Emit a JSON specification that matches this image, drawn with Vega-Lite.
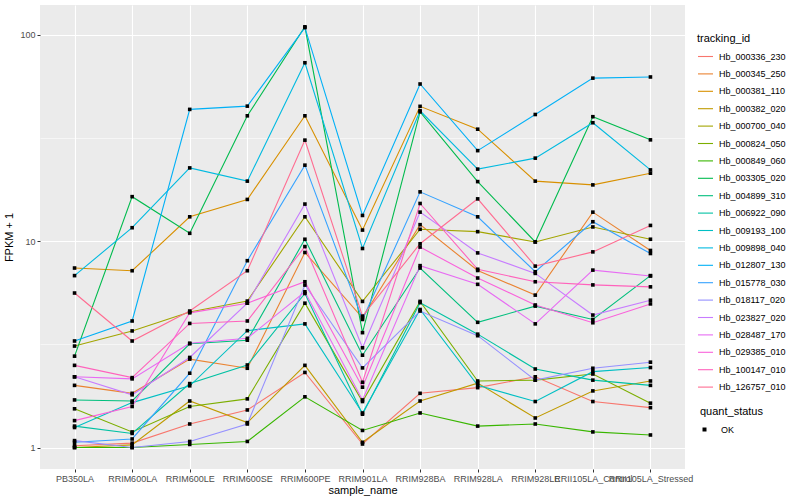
{
"$schema":"https://vega.github.io/schema/vega-lite/v6.json",
"width":645,"height":464,
"autosize":{"type":"none"},
"padding":{"left":40,"top":5,"right":115,"bottom":31},
"background":"white",
"config":{
"view":{"fill":"#EBEBEB","stroke":null},
"font":"Liberation Sans",
"axis":{"gridColor":"white","domain":false,"tickColor":"#333333","tickSize":3,"tickWidth":1,"labelColor":"#4D4D4D","labelFontSize":9,"labelPadding":2,"titleFontSize":11,"titleFontWeight":"normal","titleColor":"black"},
"legend":{"titleFontSize":11,"titleFontWeight":"normal","titleColor":"black","labelFontSize":9,"labelColor":"black"}
},
"data":{"values":[
{"t":"Hb_000336_230","s":"PB350LA","v":1.02,"q":"OK"},{"t":"Hb_000336_230","s":"RRIM600LA","v":1.05,"q":"OK"},{"t":"Hb_000336_230","s":"RRIM600LE","v":1.30,"q":"OK"},{"t":"Hb_000336_230","s":"RRIM600SE","v":1.52,"q":"OK"},{"t":"Hb_000336_230","s":"RRIM600PE","v":2.31,"q":"OK"},{"t":"Hb_000336_230","s":"RRIM901LA","v":1.04,"q":"OK"},{"t":"Hb_000336_230","s":"RRIM928BA","v":1.83,"q":"OK"},{"t":"Hb_000336_230","s":"RRIM928LA","v":1.95,"q":"OK"},{"t":"Hb_000336_230","s":"RRIM928LE","v":2.2,"q":"OK"},{"t":"Hb_000336_230","s":"RRII105LA_Control","v":1.67,"q":"OK"},{"t":"Hb_000336_230","s":"RRII105LA_Stressed","v":1.56,"q":"OK"},
{"t":"Hb_000345_250","s":"PB350LA","v":2.0,"q":"OK"},{"t":"Hb_000345_250","s":"RRIM600LA","v":1.83,"q":"OK"},{"t":"Hb_000345_250","s":"RRIM600LE","v":2.68,"q":"OK"},{"t":"Hb_000345_250","s":"RRIM600SE","v":2.42,"q":"OK"},{"t":"Hb_000345_250","s":"RRIM600PE","v":8.8,"q":"OK"},{"t":"Hb_000345_250","s":"RRIM901LA","v":4.25,"q":"OK"},{"t":"Hb_000345_250","s":"RRIM928BA","v":12.0,"q":"OK"},{"t":"Hb_000345_250","s":"RRIM928LA","v":7.2,"q":"OK"},{"t":"Hb_000345_250","s":"RRIM928LE","v":5.47,"q":"OK"},{"t":"Hb_000345_250","s":"RRII105LA_Control","v":13.8,"q":"OK"},{"t":"Hb_000345_250","s":"RRII105LA_Stressed","v":9.0,"q":"OK"},
{"t":"Hb_000381_110","s":"PB350LA","v":7.4,"q":"OK"},{"t":"Hb_000381_110","s":"RRIM600LA","v":7.18,"q":"OK"},{"t":"Hb_000381_110","s":"RRIM600LE","v":13.1,"q":"OK"},{"t":"Hb_000381_110","s":"RRIM600SE","v":15.9,"q":"OK"},{"t":"Hb_000381_110","s":"RRIM600PE","v":40.4,"q":"OK"},{"t":"Hb_000381_110","s":"RRIM901LA","v":11.3,"q":"OK"},{"t":"Hb_000381_110","s":"RRIM928BA","v":44.9,"q":"OK"},{"t":"Hb_000381_110","s":"RRIM928LA","v":34.8,"q":"OK"},{"t":"Hb_000381_110","s":"RRIM928LE","v":19.5,"q":"OK"},{"t":"Hb_000381_110","s":"RRII105LA_Control","v":18.7,"q":"OK"},{"t":"Hb_000381_110","s":"RRII105LA_Stressed","v":21.3,"q":"OK"},
{"t":"Hb_000382_020","s":"PB350LA","v":1.0,"q":"OK"},{"t":"Hb_000382_020","s":"RRIM600LA","v":1.03,"q":"OK"},{"t":"Hb_000382_020","s":"RRIM600LE","v":1.68,"q":"OK"},{"t":"Hb_000382_020","s":"RRIM600SE","v":1.32,"q":"OK"},{"t":"Hb_000382_020","s":"RRIM600PE","v":2.5,"q":"OK"},{"t":"Hb_000382_020","s":"RRIM901LA","v":1.06,"q":"OK"},{"t":"Hb_000382_020","s":"RRIM928BA","v":1.68,"q":"OK"},{"t":"Hb_000382_020","s":"RRIM928LA","v":2.05,"q":"OK"},{"t":"Hb_000382_020","s":"RRIM928LE","v":1.39,"q":"OK"},{"t":"Hb_000382_020","s":"RRII105LA_Control","v":1.88,"q":"OK"},{"t":"Hb_000382_020","s":"RRII105LA_Stressed","v":2.1,"q":"OK"},
{"t":"Hb_000700_040","s":"PB350LA","v":3.1,"q":"OK"},{"t":"Hb_000700_040","s":"RRIM600LA","v":3.67,"q":"OK"},{"t":"Hb_000700_040","s":"RRIM600LE","v":4.53,"q":"OK"},{"t":"Hb_000700_040","s":"RRIM600SE","v":5.12,"q":"OK"},{"t":"Hb_000700_040","s":"RRIM600PE","v":13.1,"q":"OK"},{"t":"Hb_000700_040","s":"RRIM901LA","v":5.1,"q":"OK"},{"t":"Hb_000700_040","s":"RRIM928BA","v":11.4,"q":"OK"},{"t":"Hb_000700_040","s":"RRIM928LA","v":11.1,"q":"OK"},{"t":"Hb_000700_040","s":"RRIM928LE","v":9.9,"q":"OK"},{"t":"Hb_000700_040","s":"RRII105LA_Control","v":11.7,"q":"OK"},{"t":"Hb_000700_040","s":"RRII105LA_Stressed","v":10.2,"q":"OK"},
{"t":"Hb_000824_050","s":"PB350LA","v":1.54,"q":"OK"},{"t":"Hb_000824_050","s":"RRIM600LA","v":1.19,"q":"OK"},{"t":"Hb_000824_050","s":"RRIM600LE","v":1.58,"q":"OK"},{"t":"Hb_000824_050","s":"RRIM600SE","v":1.72,"q":"OK"},{"t":"Hb_000824_050","s":"RRIM600PE","v":5.0,"q":"OK"},{"t":"Hb_000824_050","s":"RRIM901LA","v":1.67,"q":"OK"},{"t":"Hb_000824_050","s":"RRIM928BA","v":5.1,"q":"OK"},{"t":"Hb_000824_050","s":"RRIM928LA","v":2.1,"q":"OK"},{"t":"Hb_000824_050","s":"RRIM928LE","v":2.12,"q":"OK"},{"t":"Hb_000824_050","s":"RRII105LA_Control","v":2.27,"q":"OK"},{"t":"Hb_000824_050","s":"RRII105LA_Stressed","v":1.64,"q":"OK"},
{"t":"Hb_000849_060","s":"PB350LA","v":1.0,"q":"OK"},{"t":"Hb_000849_060","s":"RRIM600LA","v":1.0,"q":"OK"},{"t":"Hb_000849_060","s":"RRIM600LE","v":1.035,"q":"OK"},{"t":"Hb_000849_060","s":"RRIM600SE","v":1.07,"q":"OK"},{"t":"Hb_000849_060","s":"RRIM600PE","v":1.76,"q":"OK"},{"t":"Hb_000849_060","s":"RRIM901LA","v":1.21,"q":"OK"},{"t":"Hb_000849_060","s":"RRIM928BA","v":1.47,"q":"OK"},{"t":"Hb_000849_060","s":"RRIM928LA","v":1.27,"q":"OK"},{"t":"Hb_000849_060","s":"RRIM928LE","v":1.30,"q":"OK"},{"t":"Hb_000849_060","s":"RRII105LA_Control","v":1.19,"q":"OK"},{"t":"Hb_000849_060","s":"RRII105LA_Stressed","v":1.15,"q":"OK"},
{"t":"Hb_003305_020","s":"PB350LA","v":2.77,"q":"OK"},{"t":"Hb_003305_020","s":"RRIM600LA","v":16.4,"q":"OK"},{"t":"Hb_003305_020","s":"RRIM600LE","v":10.9,"q":"OK"},{"t":"Hb_003305_020","s":"RRIM600SE","v":40.4,"q":"OK"},{"t":"Hb_003305_020","s":"RRIM600PE","v":109,"q":"OK"},{"t":"Hb_003305_020","s":"RRIM901LA","v":3.6,"q":"OK"},{"t":"Hb_003305_020","s":"RRIM928BA","v":42.2,"q":"OK"},{"t":"Hb_003305_020","s":"RRIM928LA","v":19.4,"q":"OK"},{"t":"Hb_003305_020","s":"RRIM928LE","v":9.9,"q":"OK"},{"t":"Hb_003305_020","s":"RRII105LA_Control","v":40,"q":"OK"},{"t":"Hb_003305_020","s":"RRII105LA_Stressed","v":30.9,"q":"OK"},
{"t":"Hb_004899_310","s":"PB350LA","v":1.7,"q":"OK"},{"t":"Hb_004899_310","s":"RRIM600LA","v":1.68,"q":"OK"},{"t":"Hb_004899_310","s":"RRIM600LE","v":3.18,"q":"OK"},{"t":"Hb_004899_310","s":"RRIM600SE","v":3.31,"q":"OK"},{"t":"Hb_004899_310","s":"RRIM600PE","v":10.2,"q":"OK"},{"t":"Hb_004899_310","s":"RRIM901LA","v":2.8,"q":"OK"},{"t":"Hb_004899_310","s":"RRIM928BA","v":7.4,"q":"OK"},{"t":"Hb_004899_310","s":"RRIM928LA","v":4.04,"q":"OK"},{"t":"Hb_004899_310","s":"RRIM928LE","v":4.84,"q":"OK"},{"t":"Hb_004899_310","s":"RRII105LA_Control","v":4.17,"q":"OK"},{"t":"Hb_004899_310","s":"RRII105LA_Stressed","v":6.8,"q":"OK"},
{"t":"Hb_006922_090","s":"PB350LA","v":1.27,"q":"OK"},{"t":"Hb_006922_090","s":"RRIM600LA","v":1.17,"q":"OK"},{"t":"Hb_006922_090","s":"RRIM600LE","v":2.04,"q":"OK"},{"t":"Hb_006922_090","s":"RRIM600SE","v":2.51,"q":"OK"},{"t":"Hb_006922_090","s":"RRIM600PE","v":5.57,"q":"OK"},{"t":"Hb_006922_090","s":"RRIM901LA","v":1.45,"q":"OK"},{"t":"Hb_006922_090","s":"RRIM928BA","v":5.03,"q":"OK"},{"t":"Hb_006922_090","s":"RRIM928LA","v":3.54,"q":"OK"},{"t":"Hb_006922_090","s":"RRIM928LE","v":2.4,"q":"OK"},{"t":"Hb_006922_090","s":"RRII105LA_Control","v":2.12,"q":"OK"},{"t":"Hb_006922_090","s":"RRII105LA_Stressed","v":2.0,"q":"OK"},
{"t":"Hb_009193_100","s":"PB350LA","v":1.25,"q":"OK"},{"t":"Hb_009193_100","s":"RRIM600LA","v":1.65,"q":"OK"},{"t":"Hb_009193_100","s":"RRIM600LE","v":1.99,"q":"OK"},{"t":"Hb_009193_100","s":"RRIM600SE","v":3.68,"q":"OK"},{"t":"Hb_009193_100","s":"RRIM600PE","v":3.97,"q":"OK"},{"t":"Hb_009193_100","s":"RRIM901LA","v":1.47,"q":"OK"},{"t":"Hb_009193_100","s":"RRIM928BA","v":4.66,"q":"OK"},{"t":"Hb_009193_100","s":"RRIM928LA","v":2.0,"q":"OK"},{"t":"Hb_009193_100","s":"RRIM928LE","v":1.67,"q":"OK"},{"t":"Hb_009193_100","s":"RRII105LA_Control","v":2.33,"q":"OK"},{"t":"Hb_009193_100","s":"RRII105LA_Stressed","v":2.44,"q":"OK"},
{"t":"Hb_009898_040","s":"PB350LA","v":6.8,"q":"OK"},{"t":"Hb_009898_040","s":"RRIM600LA","v":11.6,"q":"OK"},{"t":"Hb_009898_040","s":"RRIM600LE","v":22.6,"q":"OK"},{"t":"Hb_009898_040","s":"RRIM600SE","v":19.5,"q":"OK"},{"t":"Hb_009898_040","s":"RRIM600PE","v":73,"q":"OK"},{"t":"Hb_009898_040","s":"RRIM901LA","v":9.2,"q":"OK"},{"t":"Hb_009898_040","s":"RRIM928BA","v":42.7,"q":"OK"},{"t":"Hb_009898_040","s":"RRIM928LA","v":22.3,"q":"OK"},{"t":"Hb_009898_040","s":"RRIM928LE","v":25.2,"q":"OK"},{"t":"Hb_009898_040","s":"RRII105LA_Control","v":37.4,"q":"OK"},{"t":"Hb_009898_040","s":"RRII105LA_Stressed","v":22.1,"q":"OK"},
{"t":"Hb_012807_130","s":"PB350LA","v":3.28,"q":"OK"},{"t":"Hb_012807_130","s":"RRIM600LA","v":4.1,"q":"OK"},{"t":"Hb_012807_130","s":"RRIM600LE","v":43.4,"q":"OK"},{"t":"Hb_012807_130","s":"RRIM600SE","v":45,"q":"OK"},{"t":"Hb_012807_130","s":"RRIM600PE","v":108,"q":"OK"},{"t":"Hb_012807_130","s":"RRIM901LA","v":13.3,"q":"OK"},{"t":"Hb_012807_130","s":"RRIM928BA","v":57.6,"q":"OK"},{"t":"Hb_012807_130","s":"RRIM928LA","v":27.4,"q":"OK"},{"t":"Hb_012807_130","s":"RRIM928LE","v":41,"q":"OK"},{"t":"Hb_012807_130","s":"RRII105LA_Control","v":61.5,"q":"OK"},{"t":"Hb_012807_130","s":"RRII105LA_Stressed","v":62.3,"q":"OK"},
{"t":"Hb_015778_030","s":"PB350LA","v":1.06,"q":"OK"},{"t":"Hb_015778_030","s":"RRIM600LA","v":1.10,"q":"OK"},{"t":"Hb_015778_030","s":"RRIM600LE","v":2.29,"q":"OK"},{"t":"Hb_015778_030","s":"RRIM600SE","v":8.03,"q":"OK"},{"t":"Hb_015778_030","s":"RRIM600PE","v":23.3,"q":"OK"},{"t":"Hb_015778_030","s":"RRIM901LA","v":4.17,"q":"OK"},{"t":"Hb_015778_030","s":"RRIM928BA","v":17.3,"q":"OK"},{"t":"Hb_015778_030","s":"RRIM928LA","v":13.1,"q":"OK"},{"t":"Hb_015778_030","s":"RRIM928LE","v":7.1,"q":"OK"},{"t":"Hb_015778_030","s":"RRII105LA_Control","v":12.4,"q":"OK"},{"t":"Hb_015778_030","s":"RRII105LA_Stressed","v":8.7,"q":"OK"},
{"t":"Hb_018117_020","s":"PB350LA","v":1.08,"q":"OK"},{"t":"Hb_018117_020","s":"RRIM600LA","v":1.0,"q":"OK"},{"t":"Hb_018117_020","s":"RRIM600LE","v":1.07,"q":"OK"},{"t":"Hb_018117_020","s":"RRIM600SE","v":1.30,"q":"OK"},{"t":"Hb_018117_020","s":"RRIM600PE","v":6.12,"q":"OK"},{"t":"Hb_018117_020","s":"RRIM901LA","v":2.43,"q":"OK"},{"t":"Hb_018117_020","s":"RRIM928BA","v":4.58,"q":"OK"},{"t":"Hb_018117_020","s":"RRIM928LA","v":3.48,"q":"OK"},{"t":"Hb_018117_020","s":"RRIM928LE","v":2.12,"q":"OK"},{"t":"Hb_018117_020","s":"RRII105LA_Control","v":2.42,"q":"OK"},{"t":"Hb_018117_020","s":"RRII105LA_Stressed","v":2.59,"q":"OK"},
{"t":"Hb_023827_020","s":"PB350LA","v":2.2,"q":"OK"},{"t":"Hb_023827_020","s":"RRIM600LA","v":1.80,"q":"OK"},{"t":"Hb_023827_020","s":"RRIM600LE","v":2.73,"q":"OK"},{"t":"Hb_023827_020","s":"RRIM600SE","v":5.0,"q":"OK"},{"t":"Hb_023827_020","s":"RRIM600PE","v":15.1,"q":"OK"},{"t":"Hb_023827_020","s":"RRIM901LA","v":3.04,"q":"OK"},{"t":"Hb_023827_020","s":"RRIM928BA","v":13.8,"q":"OK"},{"t":"Hb_023827_020","s":"RRIM928LA","v":8.76,"q":"OK"},{"t":"Hb_023827_020","s":"RRIM928LE","v":6.97,"q":"OK"},{"t":"Hb_023827_020","s":"RRII105LA_Control","v":4.38,"q":"OK"},{"t":"Hb_023827_020","s":"RRII105LA_Stressed","v":5.17,"q":"OK"},
{"t":"Hb_028487_170","s":"PB350LA","v":2.2,"q":"OK"},{"t":"Hb_028487_170","s":"RRIM600LA","v":2.15,"q":"OK"},{"t":"Hb_028487_170","s":"RRIM600LE","v":3.2,"q":"OK"},{"t":"Hb_028487_170","s":"RRIM600SE","v":3.38,"q":"OK"},{"t":"Hb_028487_170","s":"RRIM600PE","v":5.68,"q":"OK"},{"t":"Hb_028487_170","s":"RRIM901LA","v":1.70,"q":"OK"},{"t":"Hb_028487_170","s":"RRIM928BA","v":7.6,"q":"OK"},{"t":"Hb_028487_170","s":"RRIM928LA","v":6.17,"q":"OK"},{"t":"Hb_028487_170","s":"RRIM928LE","v":3.97,"q":"OK"},{"t":"Hb_028487_170","s":"RRII105LA_Control","v":7.23,"q":"OK"},{"t":"Hb_028487_170","s":"RRII105LA_Stressed","v":6.77,"q":"OK"},
{"t":"Hb_029385_010","s":"PB350LA","v":1.35,"q":"OK"},{"t":"Hb_029385_010","s":"RRIM600LA","v":1.58,"q":"OK"},{"t":"Hb_029385_010","s":"RRIM600LE","v":4.49,"q":"OK"},{"t":"Hb_029385_010","s":"RRIM600SE","v":5.0,"q":"OK"},{"t":"Hb_029385_010","s":"RRIM600PE","v":6.35,"q":"OK"},{"t":"Hb_029385_010","s":"RRIM901LA","v":1.96,"q":"OK"},{"t":"Hb_029385_010","s":"RRIM928BA","v":9.35,"q":"OK"},{"t":"Hb_029385_010","s":"RRIM928LA","v":6.62,"q":"OK"},{"t":"Hb_029385_010","s":"RRIM928LE","v":4.9,"q":"OK"},{"t":"Hb_029385_010","s":"RRII105LA_Control","v":4.02,"q":"OK"},{"t":"Hb_029385_010","s":"RRII105LA_Stressed","v":4.96,"q":"OK"},
{"t":"Hb_100147_010","s":"PB350LA","v":2.5,"q":"OK"},{"t":"Hb_100147_010","s":"RRIM600LA","v":2.18,"q":"OK"},{"t":"Hb_100147_010","s":"RRIM600LE","v":3.99,"q":"OK"},{"t":"Hb_100147_010","s":"RRIM600SE","v":4.1,"q":"OK"},{"t":"Hb_100147_010","s":"RRIM600PE","v":9.4,"q":"OK"},{"t":"Hb_100147_010","s":"RRIM901LA","v":2.07,"q":"OK"},{"t":"Hb_100147_010","s":"RRIM928BA","v":15.2,"q":"OK"},{"t":"Hb_100147_010","s":"RRIM928LA","v":7.3,"q":"OK"},{"t":"Hb_100147_010","s":"RRIM928LE","v":6.35,"q":"OK"},{"t":"Hb_100147_010","s":"RRII105LA_Control","v":6.13,"q":"OK"},{"t":"Hb_100147_010","s":"RRII105LA_Stressed","v":6.0,"q":"OK"},
{"t":"Hb_126757_010","s":"PB350LA","v":5.6,"q":"OK"},{"t":"Hb_126757_010","s":"RRIM600LA","v":3.28,"q":"OK"},{"t":"Hb_126757_010","s":"RRIM600LE","v":4.58,"q":"OK"},{"t":"Hb_126757_010","s":"RRIM600SE","v":7.18,"q":"OK"},{"t":"Hb_126757_010","s":"RRIM600PE","v":30.8,"q":"OK"},{"t":"Hb_126757_010","s":"RRIM901LA","v":4.33,"q":"OK"},{"t":"Hb_126757_010","s":"RRIM928BA","v":9.7,"q":"OK"},{"t":"Hb_126757_010","s":"RRIM928LA","v":16.0,"q":"OK"},{"t":"Hb_126757_010","s":"RRIM928LE","v":7.56,"q":"OK"},{"t":"Hb_126757_010","s":"RRII105LA_Control","v":8.86,"q":"OK"},{"t":"Hb_126757_010","s":"RRII105LA_Stressed","v":11.9,"q":"OK"}
]},
"encoding":{
"x":{"field":"s","type":"nominal","sort":["PB350LA","RRIM600LA","RRIM600LE","RRIM600SE","RRIM600PE","RRIM901LA","RRIM928BA","RRIM928LA","RRIM928LE","RRII105LA_Control","RRII105LA_Stressed"],"scale":{"type":"point","padding":0.6},"axis":{"title":"sample_name","labelAngle":0,"labelOverlap":false,"grid":true,"gridWidth":1.1,"titlePadding":1}},
"y":{"field":"v","type":"quantitative","scale":{"type":"log","domain":[0.787,139],"nice":false,"zero":false},"axis":{"title":"FPKM + 1","values":[1,3.1623,10,31.623,100],"format":"d","labelExpr":"(datum.value==3.1623||datum.value==31.623) ? '' : datum.label","gridWidth":{"condition":{"test":"datum.value==3.1623||datum.value==31.623","value":0.55},"value":1.1},"tickColor":{"condition":{"test":"datum.value==3.1623||datum.value==31.623","value":"transparent"},"value":"#333333"},"titlePadding":5}}
},
"layer":[
{"mark":{"type":"line","strokeWidth":1.1},
 "encoding":{"color":{"field":"t","type":"nominal","scale":{"domain":["Hb_000336_230","Hb_000345_250","Hb_000381_110","Hb_000382_020","Hb_000700_040","Hb_000824_050","Hb_000849_060","Hb_003305_020","Hb_004899_310","Hb_006922_090","Hb_009193_100","Hb_009898_040","Hb_012807_130","Hb_015778_030","Hb_018117_020","Hb_023827_020","Hb_028487_170","Hb_029385_010","Hb_100147_010","Hb_126757_010"],"range":["#F8766D","#EA8331","#D89000","#C09B00","#A3A500","#7CAE00","#39B600","#00BB4E","#00BF7D","#00C1A3","#00BFC4","#00BAE0","#00B0F6","#35A2FF","#9590FF","#C77CFF","#E76BF3","#FA62DB","#FF62BC","#FF6C91"]},
 "legend":{"title":"tracking_id","orient":"none","legendX":657,"legendY":28,"symbolType":"stroke","symbolSize":225,"symbolStrokeWidth":1.1,"rowPadding":3.4,"titlePadding":4,"labelOffset":5}}}},
{"mark":{"type":"point","shape":"square","filled":true,"color":"black","size":13,"opacity":1},
 "encoding":{"shape":{"field":"q","type":"nominal","scale":{"range":["square"]},"legend":{"title":"quant_status","orient":"none","legendX":660,"legendY":401,"symbolFillColor":"black","symbolStrokeColor":"black","symbolSize":16,"titlePadding":8,"labelOffset":12}}}}
]
}
